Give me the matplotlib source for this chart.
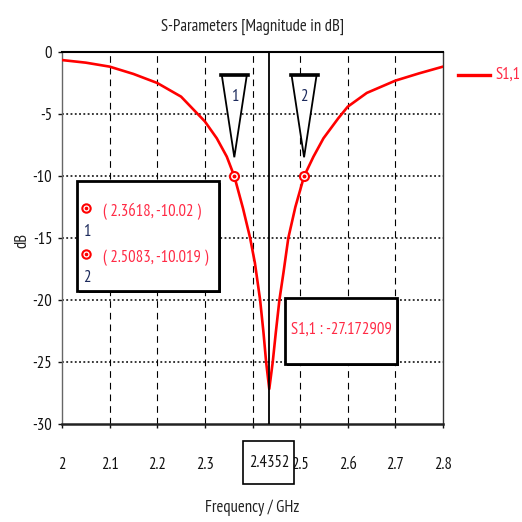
import matplotlib
matplotlib.use("Agg")
import matplotlib.pyplot as plt
import matplotlib.transforms as mtransforms
from matplotlib.patches import Rectangle, Polygon
from matplotlib.lines import Line2D

# ---------------- data ----------------
freq = [2.00, 2.05, 2.10, 2.15, 2.20, 2.25, 2.285, 2.30, 2.325, 2.346, 2.3618, 2.38,
        2.395, 2.405, 2.416, 2.423, 2.4286, 2.4352, 2.4425, 2.449, 2.4565, 2.465,
        2.4752, 2.49, 2.5083, 2.528, 2.549, 2.58, 2.60, 2.64, 2.70, 2.75, 2.80]
s11 = [-0.65, -0.86, -1.18, -1.77, -2.5, -3.6, -5.0, -5.6, -6.96, -8.44, -10.02, -12.6,
       -15.0, -17.0, -20.0, -22.6, -25.0, -27.17, -25.0, -22.6, -20.0, -17.8,
       -15.0, -12.5, -10.02, -8.44, -6.96, -5.35, -4.41, -3.3, -2.31, -1.72, -1.18]
marker_ids = ["1", "2"]
marker_freq = [2.3618, 2.5083]
marker_val = [-10.02, -10.019]
marker_labels = ["( 2.3618, -10.02 )", "( 2.5083, -10.019 )"]
min_freq = 2.4352
min_label = "S1,1 : -27.172909"
min_freq_label = "2.4352"
xticks = [2.0, 2.1, 2.2, 2.3, 2.4, 2.5, 2.6, 2.7, 2.8]
xtick_labels = ["2", "2.1", "2.2", "2.3", "2.4", "2.5", "2.6", "2.7", "2.8"]
yticks = [0, -5, -10, -15, -20, -25, -30]
ytick_labels = ["0", "-5", "-10", "-15", "-20", "-25", "-30"]
series_name = "S1,1"
title = "S-Parameters [Magnitude in dB]"
xlabel = "Frequency / GHz"
ylabel = "dB"

FONT = ["PT Sans Narrow", "Roboto Condensed", "Liberation Sans Narrow", "Archivo Narrow", "DejaVu Sans"]
plt.rcParams["font.family"] = FONT
FS = 12
RED = "#ff0000"
TXT_RED = "#ff2a45"
NAVY = "#1c2a5c"

W = H = 522
fig = plt.figure(figsize=(W / 100, H / 100), dpi=100)
L, R, T, B = 62, 443, 52, 424
ax = fig.add_axes([L / W, 1 - B / H, (R - L) / W, (B - T) / H])

def fx(x):
    return x / W

def fy(y):
    return 1 - y / H

ax.set_xlim(2.0, 2.8)
ax.set_ylim(-30, 0)
ax.set_xticks(xticks)
ax.set_xticklabels(xtick_labels)
ax.set_yticks(yticks)
ax.set_yticklabels(ytick_labels)
ax.tick_params(axis="x", direction="out", length=3, width=1, pad=21, labelsize=FS, colors="#111111")
ax.tick_params(axis="y", direction="out", length=3, width=1, pad=4, labelsize=FS, colors="#111111")

for xt in xticks[1:-1]:
    ax.axvline(xt, color="black", lw=0.8, ls=(0, (6, 4.5)), zorder=1)
for yt in yticks[1:-1]:
    ax.axhline(yt, color="black", lw=1.1, ls=(0, (1.2, 1.6)), zorder=1)

ax.spines["top"].set_linewidth(1.5)
ax.spines["bottom"].set_linewidth(1.8)
ax.spines["bottom"].set_color("#222222")
ax.spines["left"].set_linewidth(1.0)
ax.spines["left"].set_color("#666666")
ax.spines["right"].set_linewidth(1.0)
ax.spines["right"].set_color("#333333")

ax.plot(freq, s11, color=RED, lw=1.9, zorder=3, solid_joinstyle="round")
ax.axvline(min_freq, color="black", lw=1.3, zorder=4)

ax.set_title(title, fontsize=FS, pad=15, color="#222222")
ax.set_xlabel(xlabel, fontsize=FS, labelpad=19, color="#222222")
fig.text(fx(22), fy(240), ylabel, rotation=90, ha="center", va="center", fontsize=FS, color="#222222")

# legend
fig.add_artist(Line2D([fx(458), fx(490)], [fy(75), fy(75)], color=RED, lw=2.4))
fig.text(fx(495), fy(75), series_name, ha="left", va="center", fontsize=FS, color=TXT_RED)

# markers with triangles
fig.canvas.draw()
ident = mtransforms.IdentityTransform()
for mid, mf, mv in zip(marker_ids, marker_freq, marker_val):
    ax.plot([mf], [mv], marker="o", ms=6.5, mfc="white", mec=RED, mew=1.5, zorder=6, ls="none")
    ax.plot([mf], [mv], marker="o", ms=1.8, mfc=RED, mec=RED, zorder=7, ls="none")
    px, py = ax.transData.transform((mf, mv))
    tri = Polygon([[px - 12.5, py + 101], [px + 12.5, py + 101], [px, py + 19]], closed=True,
                  fc="white", ec="black", lw=1.3, transform=ident, zorder=5)
    fig.add_artist(tri)
    fig.add_artist(Line2D([px - 13.5, px + 13.5], [py + 101, py + 101], color="black", lw=2.6,
                          transform=ident, zorder=6))
    fig.text(px, py + 79, mid, transform=ident, ha="center", va="center", fontsize=FS, color=NAVY, zorder=7)

def boxed(x0, y0, x1, y1):
    fig.add_artist(Rectangle((fx(x0) + 2 / W, fy(y1) - 2 / H), (x1 - x0) / W, (y1 - y0) / H,
                             transform=fig.transFigure, fc="black", ec="black", lw=0, zorder=8))
    fig.add_artist(Rectangle((fx(x0), fy(y1)), (x1 - x0) / W, (y1 - y0) / H,
                             transform=fig.transFigure, fc="white", ec="black", lw=2.0, zorder=9))

# marker table
boxed(77, 181, 219, 291)
rows_y = [210, 256]
for ry, mid, lab in zip(rows_y, marker_ids, marker_labels):
    fig.add_artist(Line2D([fx(86)], [fy(ry - 2)], marker="o", ms=6, mfc="white", mec=RED, mew=1.5, zorder=10))
    fig.add_artist(Line2D([fx(86)], [fy(ry - 2)], marker="o", ms=1.6, mfc=RED, mec=RED, zorder=11))
    fig.text(fx(87), fy(ry + 22), mid, ha="center", va="center", fontsize=FS, color=NAVY, zorder=11)
    fig.text(fx(103), fy(ry + 2), lab, ha="left", va="center", fontsize=FS, color=TXT_RED, zorder=11)

# minimum value box
boxed(285, 298, 397, 364)
fig.text(fx(341), fy(330), min_label, ha="center", va="center", fontsize=FS, color=TXT_RED, zorder=11)

# frequency box on x-axis (covers the tick label beneath it, as in the original)
mpx, _ = ax.transData.transform((min_freq, -30))
box_l, box_r = mpx - 26, mpx + 25
for xt, tl in zip(xticks, ax.get_xticklabels()):
    tx, _ = ax.transData.transform((xt, -30))
    if box_l < tx < box_r:
        tl.set_visible(False)
fig.add_artist(Rectangle((box_l, fig.bbox.height - 484), box_r - box_l, 43, transform=ident,
                         fc="white", ec="black", lw=1.2, zorder=9))
fig.text(mpx, fig.bbox.height - 463, min_freq_label, transform=ident, ha="center", va="center",
         fontsize=FS, color="#111111", zorder=10)

fig.savefig("out.png", dpi=100)
